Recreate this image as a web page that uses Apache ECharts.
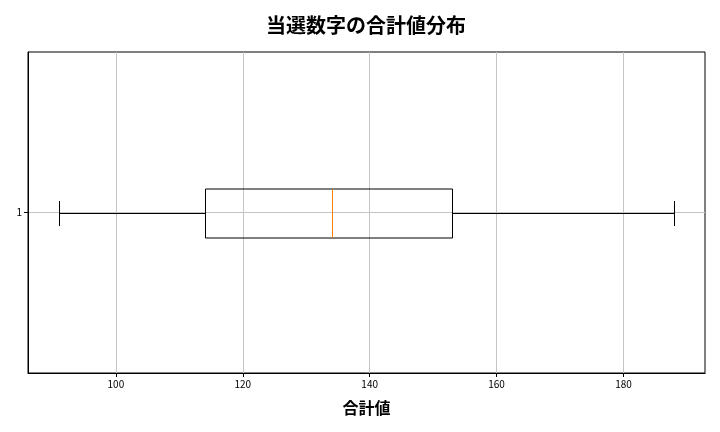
<!DOCTYPE html>
<html><head><meta charset="utf-8">
<script src="https://cdn.jsdelivr.net/npm/echarts@6/dist/echarts.min.js"></script>
<style>html,body{margin:0;padding:0;background:#fff}#c{width:720px;height:432px}</style>
</head><body><div id="c"></div>
<script>
const categories = [1];
const whiskerLow = [91];
const q1 = [114];
const median = [134];
const q3 = [153];
const whiskerHigh = [188];
const xTicks = [100, 120, 140, 160, 180];

const FONT = '"Noto Sans CJK JP", "Noto Sans", sans-serif';
const chart = echarts.init(document.getElementById('c'), null, {renderer: 'canvas'});
const data = categories.map((c, i) => [c, whiskerLow[i], q1[i], median[i], q3[i], whiskerHigh[i]]);
const lo = Math.min(...whiskerLow), hi = Math.max(...whiskerHigh), pad = (hi - lo) * 0.05;

chart.setOption({
  animation: false,
  title: {
    text: '当選数字の合計値分布', left: 361, textAlign: 'center', top: 10,
    textStyle: {fontFamily: FONT, fontSize: 20, fontWeight: 'bold', color: '#000'}
  },
  grid: {left: 28, right: 15, top: 52, bottom: 59, show: true, borderColor: '#000', borderWidth: 1, backgroundColor: 'transparent'},
  xAxis: {
    type: 'value', min: lo - pad, max: hi + pad,
    name: '合計値', nameLocation: 'middle', nameGap: 27,
    nameTextStyle: {fontFamily: FONT, fontSize: 16, fontWeight: 'bold', color: '#000'},
    axisLine: {show: true, onZero: false, lineStyle: {color: '#000', width: 1}},
    axisTick: {show: true, customValues: xTicks, length: 4, lineStyle: {color: '#000'}},
    axisLabel: {customValues: xTicks, fontFamily: FONT, fontSize: 10, color: '#000', margin: 6},
    splitLine: {show: true, lineStyle: {color: '#c4c4c4', width: 1}}
  },
  yAxis: {
    type: 'value', min: 0.5, max: 1.5, interval: 0.5,
    axisLine: {show: true, lineStyle: {color: '#000', width: 1}},
    axisTick: {show: true, customValues: categories, length: 4, lineStyle: {color: '#000'}},
    axisLabel: {customValues: categories, fontFamily: FONT, fontSize: 10, color: '#000', margin: 6,
      formatter: v => String(v)},
    splitLine: {show: true, lineStyle: {color: '#c4c4c4', width: 1}}
  },
  series: [{
    type: 'custom',
    clip: false,
    data: data,
    encode: {x: [1, 2, 3, 4, 5], y: 0},
    renderItem: function (params, api) {
      const y = api.value(0);
      const r = v => Math.round(v) + 0.5;
      const p = k => r(api.coord([api.value(k), y])[0]);
      const c = r(api.coord([0, y])[1]);
      const hb = 24.5, hc = 12.5;
      const xLo = p(1), xQ1 = p(2), xMed = p(3), xQ3 = p(4), xHi = p(5);
      const blk = {stroke: '#000', lineWidth: 1, fill: null};
      return {type: 'group', children: [
        {type: 'line', shape: {x1: xLo, y1: c, x2: xQ1, y2: c}, style: blk},
        {type: 'line', shape: {x1: xQ3, y1: c, x2: xHi, y2: c}, style: blk},
        {type: 'line', shape: {x1: xLo, y1: c - hc, x2: xLo, y2: c + hc}, style: blk},
        {type: 'line', shape: {x1: xHi, y1: c - hc, x2: xHi, y2: c + hc}, style: blk},
        {type: 'rect', shape: {x: xQ1, y: c - hb, width: xQ3 - xQ1, height: 2 * hb},
          style: {stroke: '#000', lineWidth: 1, fill: null}},
        {type: 'line', shape: {x1: xMed, y1: c - hb, x2: xMed, y2: c + hb},
          style: {stroke: '#ff7f0e', lineWidth: 1}}
      ]};
    }
  }]
});
</script></body></html>
